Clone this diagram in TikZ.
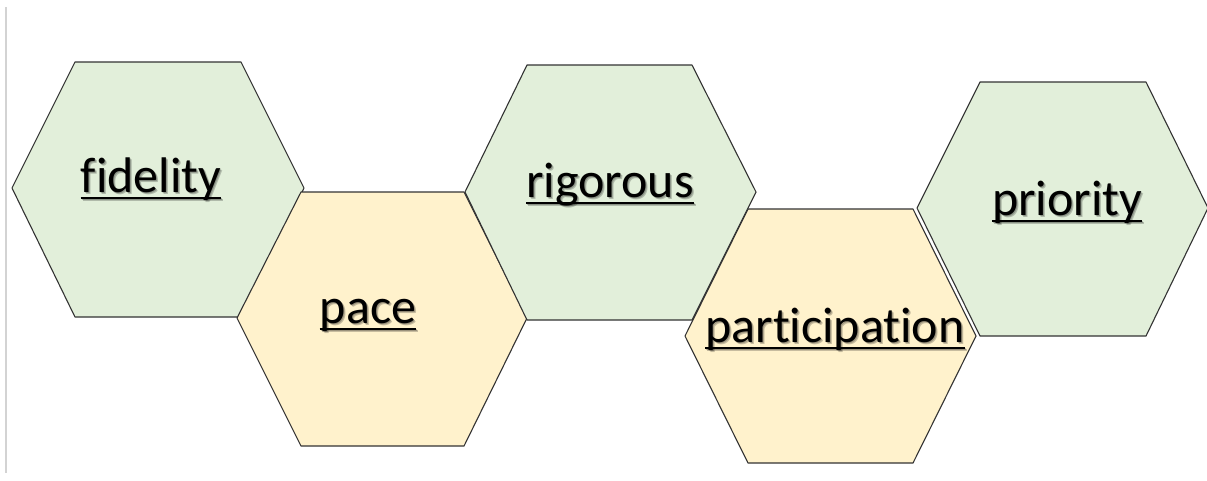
\documentclass[tikz,border=0pt]{standalone}
\usepackage{fontspec}
\newfontfamily\wordfont[Ligatures={NoCommon}]{Carlito}
\definecolor{hexgreen}{HTML}{E2EFDA}
\definecolor{hexyellow}{HTML}{FFF2CC}
\definecolor{edgegray}{HTML}{333333}
\definecolor{railgray}{HTML}{D3D3D3}
\tikzset{
  hexgreen/.style={fill=hexgreen, draw=edgegray, line width=1.1pt, line join=round},
  hexyellow/.style={fill=hexyellow, draw=edgegray, line width=1.1pt, line join=round},
  lbl/.style={font=\wordfont\fontsize{50}{56}\selectfont, inner sep=0pt, anchor=base, text=black},
  lblshade/.style={lbl, text=black, opacity=0.22},
  uline/.style={line width=2.4pt, draw=black},
  ulineshade/.style={line width=2.4pt, draw=black, opacity=0.22}
}
% underlined word with a soft drop shadow; #1 name, #2 x, #3 baseline y, #4 text
\newcommand\hexword[4]{%
  \node[lblshade] (#1s) at (#2+2,#3+2) {#4};
  \draw[ulineshade] ([yshift=-6pt]#1s.base west) -- ([yshift=-6pt]#1s.base east);
  \node[lblshade] (#1t) at (#2+1,#3+1) {#4};
  \draw[ulineshade] ([yshift=-6pt]#1t.base west) -- ([yshift=-6pt]#1t.base east);
  \node[lbl] (#1) at (#2,#3) {#4};
  \draw[uline] ([yshift=-6pt]#1.base west) -- ([yshift=-6pt]#1.base east);
}
\begin{document}
\begin{tikzpicture}[x=1pt, y=-1pt]
  \useasboundingbox (0,0) rectangle (1207,480);
  \fill[white] (0,0) rectangle (1207,480);
  % thin rail on the left
  \draw[railgray, line width=2.2pt] (6,7) -- (6,473);

  % hexagons
  \draw[hexgreen]  (12,188) -- (75,62) -- (241,62) -- (304,188) -- (241,317) -- (75,317) -- cycle;
  \draw[hexyellow] (237,318) -- (301,192) -- (464,192) -- (527,318) -- (464,446) -- (301,446) -- cycle;
  \draw[hexgreen]  (465,192) -- (527,65) -- (692,65) -- (756,192) -- (692,320) -- (527,320) -- cycle;
  \draw[hexyellow] (685,336) -- (748,209) -- (913,209) -- (976,336) -- (913,463) -- (748,463) -- cycle;
  \draw[hexgreen]  (917,208) -- (980,82) -- (1146,82) -- (1208,208) -- (1146,336) -- (980,336) -- cycle;

  % words
  \hexword{fidelity}{151}{192}{fidelity}
  \hexword{pace}{368}{323}{pace}
  \hexword{rigorous}{610}{197}{rigorous}
  \hexword{participation}{835}{342}{participation}
  \hexword{priority}{1067}{215}{priority}
\end{tikzpicture}
\end{document}
